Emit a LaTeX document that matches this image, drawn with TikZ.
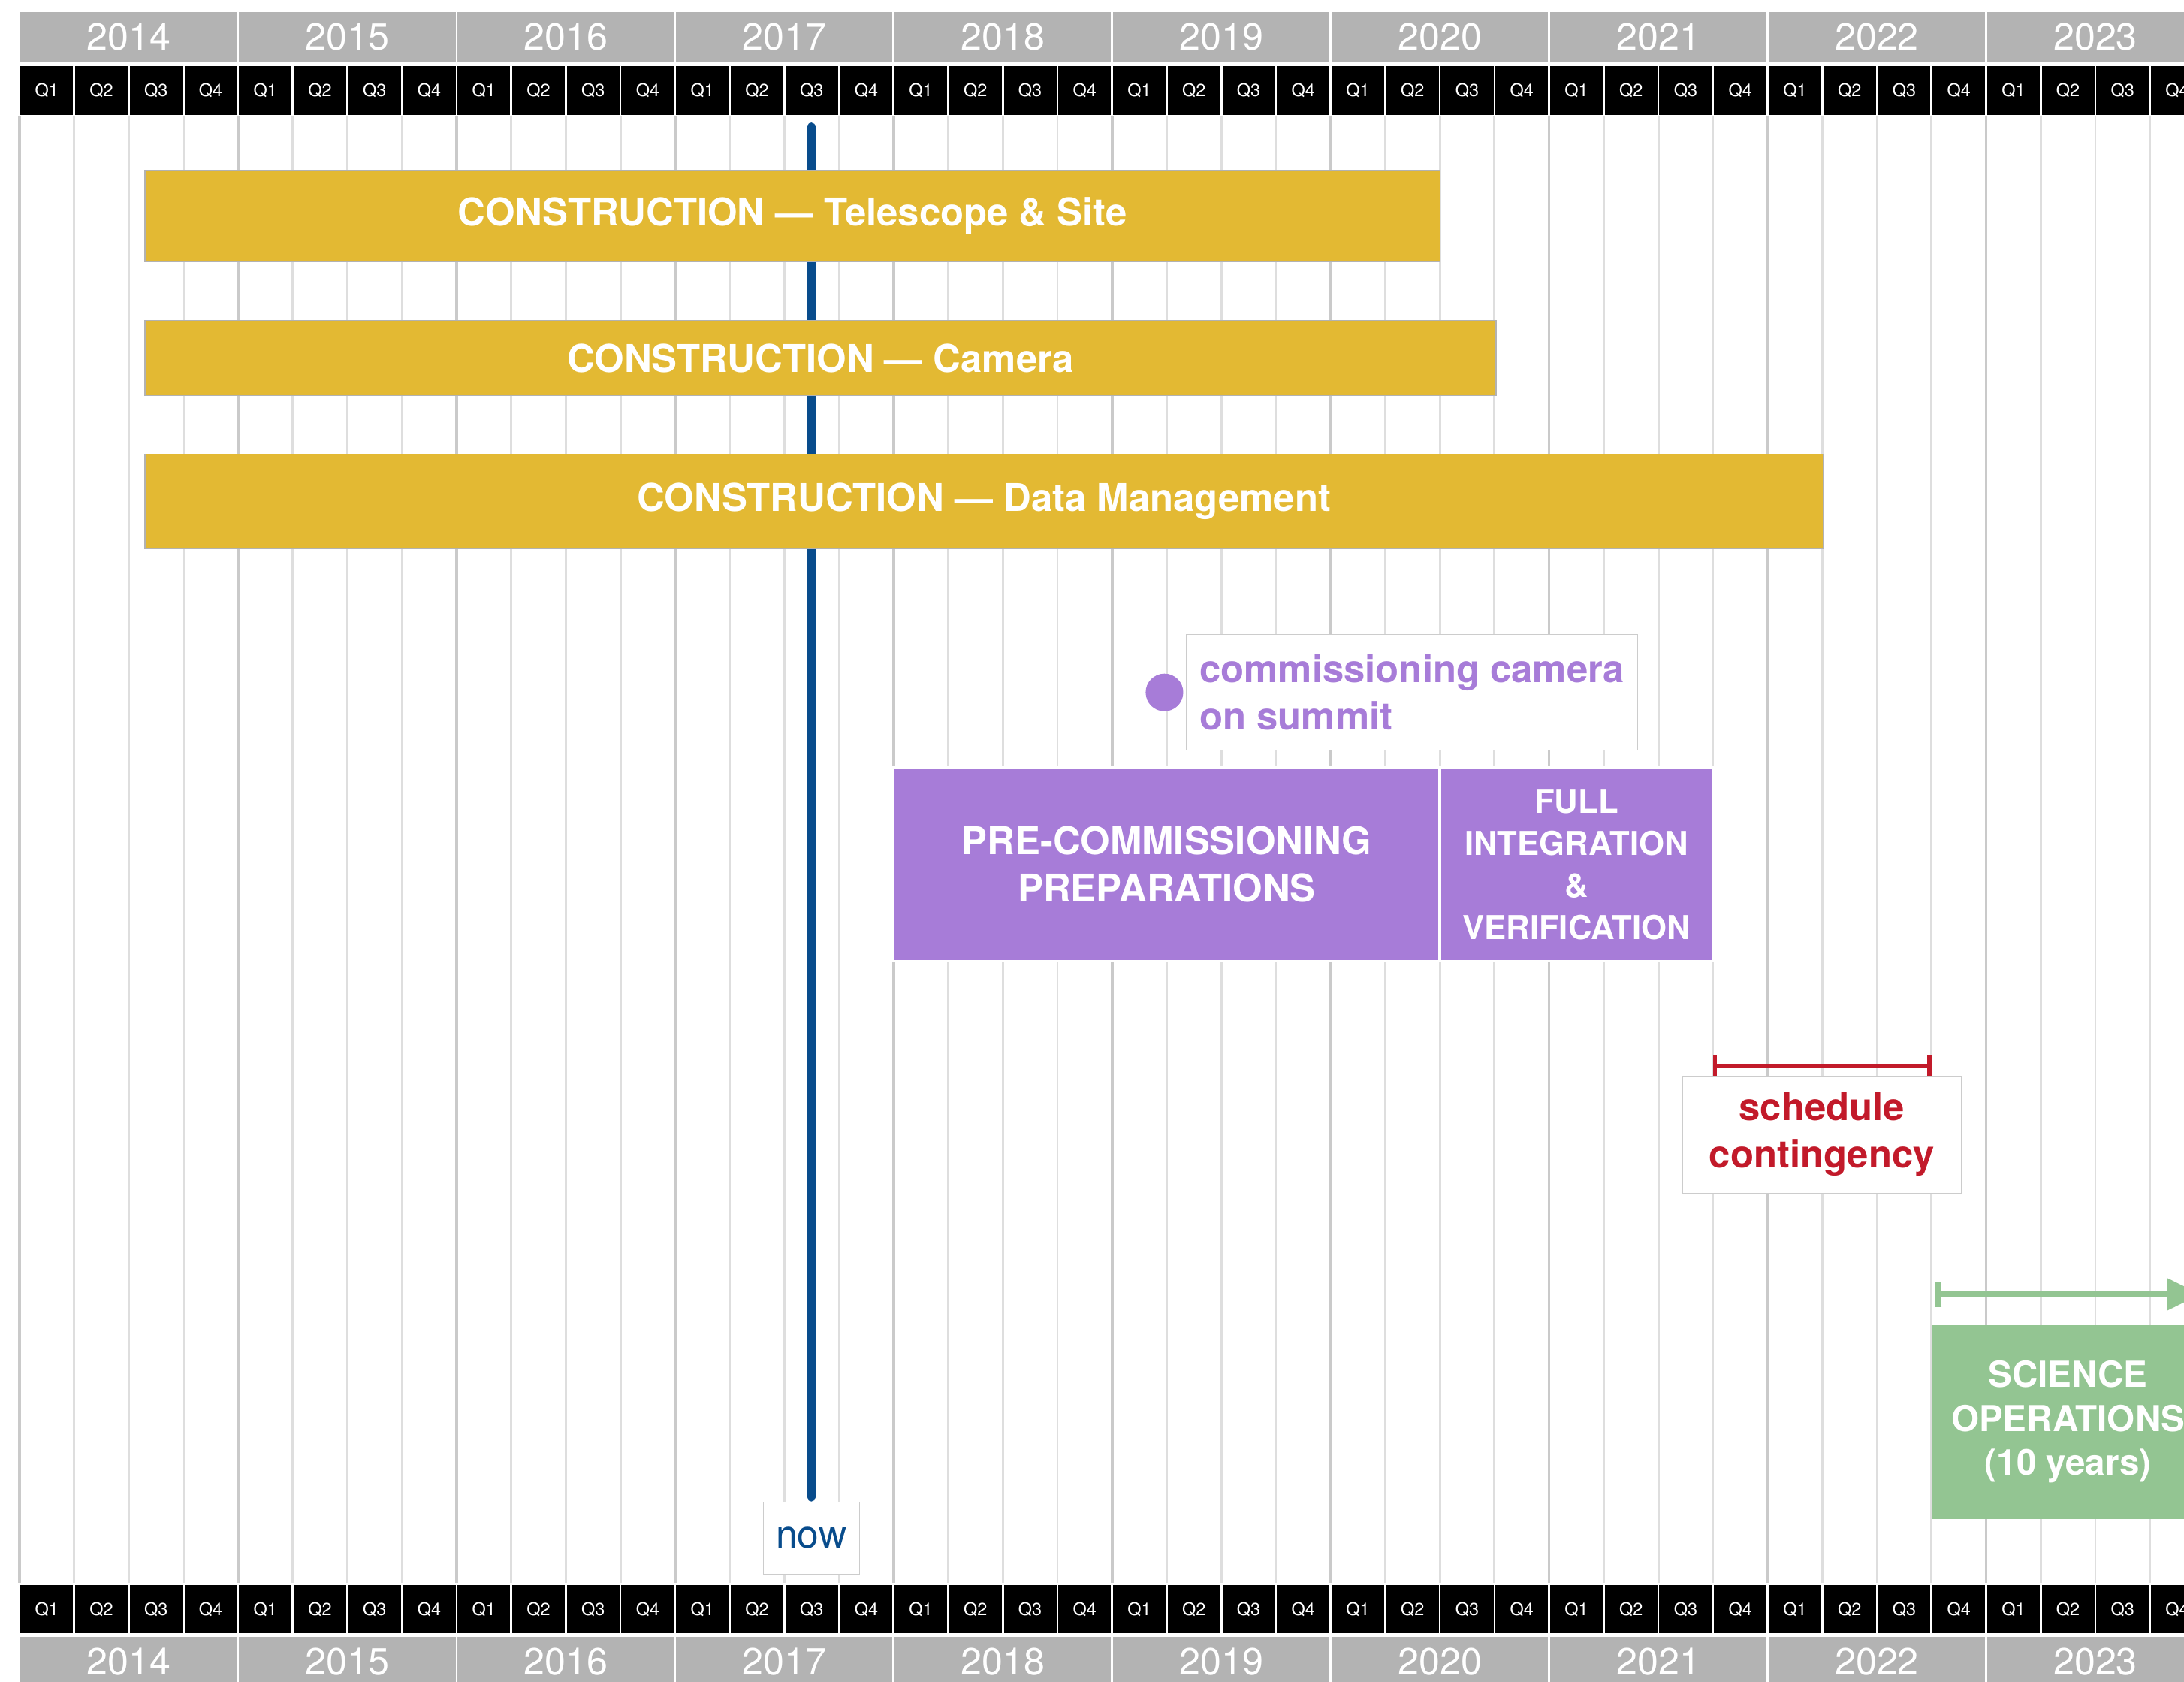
\documentclass[tikz,border=0pt]{standalone}
\usepackage{fontspec}
\setmainfont{TeX Gyre Heros}
\usepackage{xcolor}
\definecolor{consyellow}{RGB}{227,185,51}
\definecolor{commpurple}{RGB}{167,124,216}
\definecolor{contred}{RGB}{194,26,42}
\definecolor{opsgreen}{RGB}{147,197,146}
\definecolor{nowblue}{RGB}{8,76,140}
\definecolor{yeargray}{RGB}{179,179,179}
\definecolor{gridgray}{RGB}{222,222,222}
\definecolor{yeargrid}{RGB}{202,202,202}
\usepackage{tikz}
\usetikzlibrary{arrows.meta,positioning}

\begin{document}
\begin{tikzpicture}[x=0.2mm, y=-0.2mm,
  bigtext/.style={font=\fontsize{15.6}{19.3}\selectfont\bfseries},
  yearcell/.style={draw=white,line width=0.8pt,fill=yeargray,text=white,inner sep=0pt,
    minimum width=31.38mm,minimum height=7.4mm,font=\fontsize{15.4}{18}\selectfont},
  qcell/.style={draw=white,line width=0.8pt,fill=black,text=white,inner sep=0pt,
    minimum width=7.84mm,minimum height=7.2mm,font=\fontsize{7.2}{8}\selectfont},
  ganttbar/.style={inner sep=0pt,align=center,text=white},
  conbar/.style={ganttbar,bigtext,fill=consyellow,draw=black!30,line width=0.4pt},
  combar/.style={ganttbar,fill=commpurple,draw=white,line width=1pt,minimum height=27.8mm},
  tagbox/.style={draw=black!20,fill=white,line width=0.4pt,align=center,inner sep=0pt}]

  \useasboundingbox (0,0) rectangle (1568,1207);
  \fill[white] (0,0) rectangle (1568,1207);
  \clip (0,0) rectangle (1568,1207);

  % quarter grid, year lines a bit darker
  \foreach \k in {0,...,40} {
    \pgfmathsetmacro\gx{14+39.22*\k}
    \draw[gridgray,line width=0.9pt] (\gx,83) -- (\gx,1136);
  }
  \foreach \k in {0,...,10} {
    \pgfmathsetmacro\gx{14+156.88*\k}
    \draw[yeargrid,line width=1.1pt] (\gx,83) -- (\gx,1136);
  }

  % year and quarter bands, top and bottom
  \foreach \yr [count=\i from 0] in {2014,...,2023} {
    \pgfmathsetmacro\xm{14+156.88*\i+78.44}
    \node[yearcell] (top\yr) at (\xm,26.5) {\yr};
    \node[yearcell] (bot\yr) at (\xm,1192.5) {\yr};
    \foreach \q in {1,...,4} {
      \pgfmathsetmacro\qm{14+156.88*\i+39.22*(\q-1)+19.61}
      \node[qcell] (tq\yr\q) at (\qm,65) {Q\q};
      \node[qcell] (bq\yr\q) at (\qm,1155) {Q\q};
    }
  }

  % "now" marker
  \node[tagbox,minimum width=13.8mm,minimum height=10.4mm,text=nowblue,
    font=\fontsize{15.8}{19}\selectfont] (now) at (582.5,1104) {now};
  \coordinate (nowtop) at (582.5,91);
  \draw[nowblue,line width=1.2mm,line cap=round,shorten >=0.6mm] (nowtop) -- (now.north);

  % construction bars
  \node[conbar,minimum width=186mm,minimum height=13.2mm] (contel) at (569,155)
    {CONSTRUCTION — Telescope \& Site};
  \node[conbar,minimum width=194mm,minimum height=10.8mm] (concam) at (589,257)
    {CONSTRUCTION — Camera};
  \node[conbar,minimum width=241mm,minimum height=13.6mm] (condm) at (706.5,360)
    {CONSTRUCTION — Data Management};

  % camera milestone
  \node[circle,fill=commpurple,inner sep=0pt,minimum size=5.4mm] (camdot) at (836,497) {};
  \node[tagbox,right=0.3mm of camdot,minimum width=64.8mm,minimum height=16.6mm,
    text=commpurple,bigtext,align=left] (camtag) {commissioning camera\\on summit};

  % commissioning
  \node[combar,bigtext,minimum width=78.44mm] (precom) at (837.6,620.5)
    {PRE-COMMISSIONING\\PREPARATIONS};
  \node[combar,font=\fontsize{13.4}{17.1}\selectfont\bfseries,minimum width=39.22mm]
    (fiv) at (1131.75,620.5) {FULL\\INTEGRATION\\\&\\VERIFICATION};

  % schedule contingency
  \coordinate (cs) at (1229.8,765);
  \coordinate (ce) at (1386.7,765);
  \coordinate (cmid) at (1308,765);
  \draw[contred,line width=0.6mm,{Bar[width=2.9mm]}-{Bar[width=2.9mm]}] (cs) -- (ce);
  \node[tagbox,below=1.4mm of cmid,minimum width=40mm,minimum height=16.8mm,
    text=contred,bigtext] (conttag) {schedule\\contingency};

  % science operations
  \coordinate (opsa) at (1389,929);
  \coordinate (opsb) at (1580,929);
  \draw[opsgreen,line width=0.9mm,{Bar[width=3.6mm,length=1mm]}-{Triangle[length=4.8mm,width=4.4mm]}] (opsa) -- (opsb);
  \node[ganttbar,fill=opsgreen,font=\fontsize{14.6}{17.9}\selectfont\bfseries,
    minimum width=39.22mm,minimum height=27.8mm] (ops) at (1484.75,1020.5)
    {SCIENCE\\OPERATIONS\\(10 years)};
\end{tikzpicture}
\end{document}
